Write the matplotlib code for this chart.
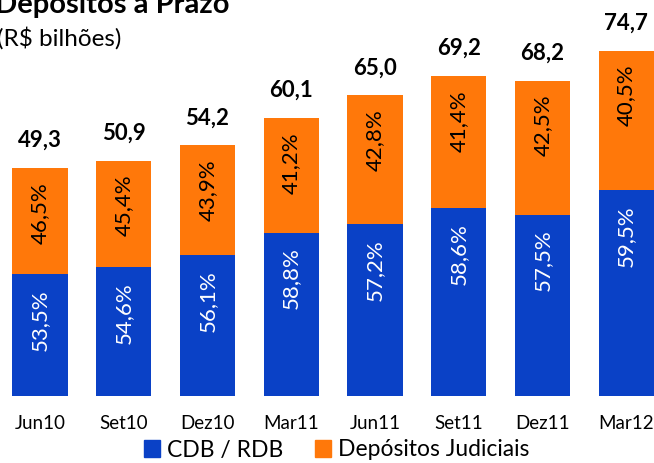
import matplotlib.pyplot as plt
from matplotlib.patches import Patch

# data (R$ bilhoes)
periods = ['Jun10', 'Set10', 'Dez10', 'Mar11', 'Jun11', 'Set11', 'Dez11', 'Mar12']
totals = [49.3, 50.9, 54.2, 60.1, 65.0, 69.2, 68.2, 74.7]
pct_cdb = [53.5, 54.6, 56.1, 58.8, 57.2, 58.6, 57.5, 59.5]
pct_jud = [46.5, 45.4, 43.9, 41.2, 42.8, 41.4, 42.5, 40.5]

BLUE = '#0A41C6'
ORANGE = '#FF780A'
FONT = 'Lato'

plt.rcParams['font.family'] = [FONT, 'DejaVu Sans']


def br(v, fmt='%.1f'):
    return (fmt % v).replace('.', ',')


def main():
    fig = plt.figure(figsize=(6.54, 4.63), dpi=100)
    ax = fig.add_axes([-0.003, 0.1447, 1.0245, 0.799])

    cdb = [t * p / 100 for t, p in zip(totals, pct_cdb)]
    jud = [t - c for t, c in zip(totals, cdb)]
    x = range(len(periods))

    ax.bar(x, cdb, width=0.66, color=BLUE)
    ax.bar(x, jud, width=0.66, bottom=cdb, color=ORANGE)

    for i in x:
        ax.annotate(br(totals[i]), (i, totals[i]), xytext=(0, 21),
                    textcoords='offset pixels', ha='center', va='baseline',
                    fontsize=16, fontweight='bold', color='black')
        ax.annotate(br(pct_jud[i]) + '%', (i, totals[i]), xytext=(0, -14),
                    textcoords='offset pixels', ha='center', va='top',
                    rotation=90, fontsize=16, color='black')
        ax.annotate(br(pct_cdb[i]) + '%', (i, cdb[i]), xytext=(0, -15),
                    textcoords='offset pixels', ha='center', va='top',
                    rotation=90, fontsize=16, color='white')

    ax.set_xlim(-0.5, 7.5)
    ax.set_ylim(0, 80)
    ax.set_xticks(list(x))
    ax.set_xticklabels(periods, fontsize=13.5)
    ax.tick_params(axis='x', length=0, pad=14)
    ax.set_yticks([])
    for s in ax.spines.values():
        s.set_visible(False)

    fig.text(-0.008, 1.0 - 13 / 463, 'Depósitos a Prazo', fontsize=21,
             fontweight='bold', ha='left', va='baseline')
    fig.text(-0.004, 1.0 - 38 / 463, '(R$ bilhões)', fontsize=17.5,
             ha='left', va='center')

    handles = [Patch(color=BLUE, label='CDB / RDB'),
               Patch(color=ORANGE, label='Depósitos Judiciais')]
    fig.legend(handles=handles, loc='center', bbox_to_anchor=(0.515, 1 - 450 / 463),
               ncol=2, frameon=False, fontsize=16.5, handlelength=0.7,
               handleheight=0.7, handletextpad=0.3, columnspacing=1.4,
               borderaxespad=0, borderpad=0)

    fig.savefig('out.png', dpi=100)


if __name__ == '__main__':
    main()
